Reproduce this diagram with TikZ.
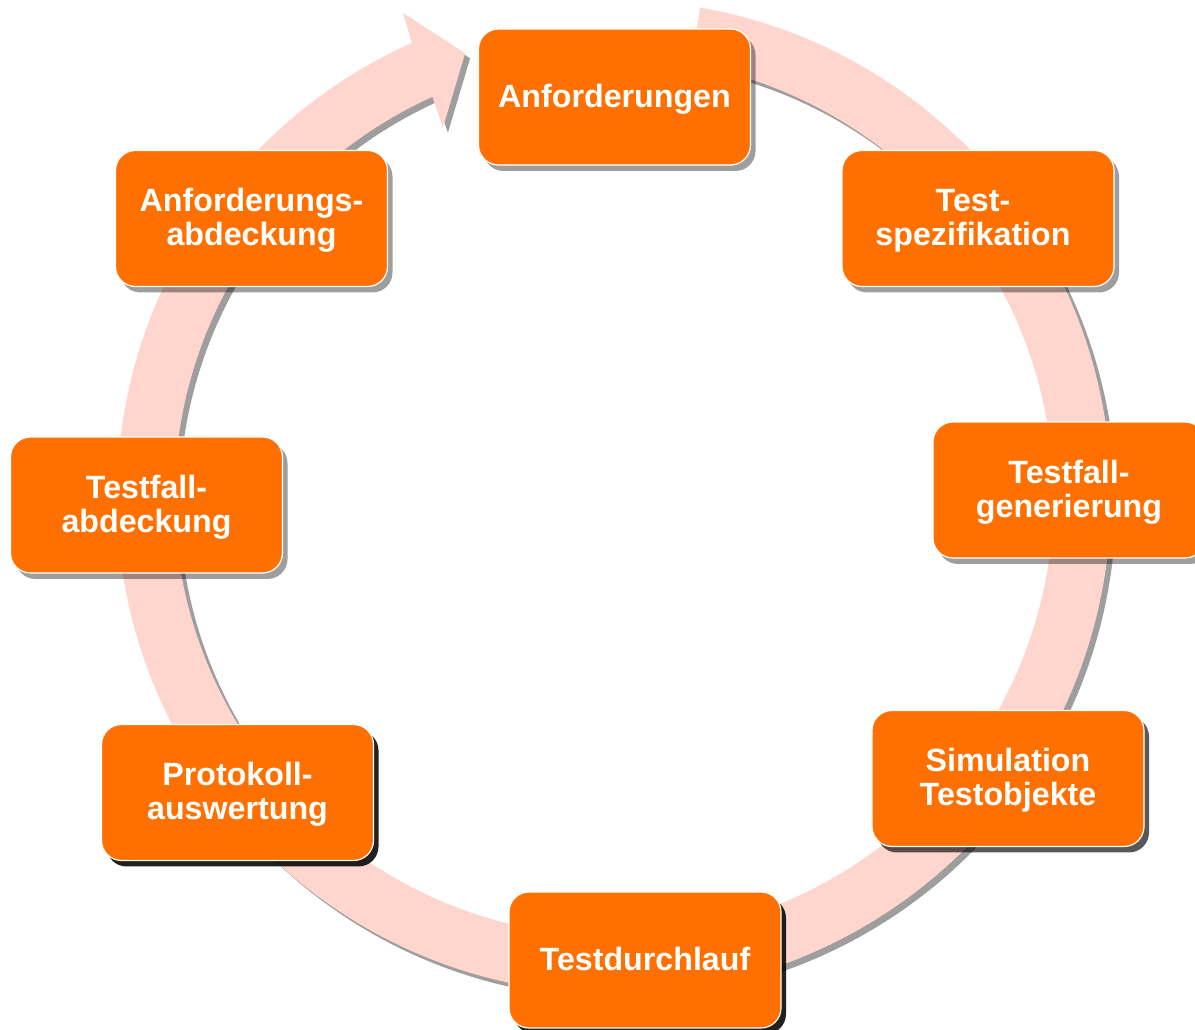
\documentclass[tikz,border=0pt]{standalone}
\usepackage{fontspec}
\setmainfont{Liberation Sans}
\usetikzlibrary{shadows}
\definecolor{stepfill}{RGB}{255,112,0}
\definecolor{ringpink}{RGB}{255,214,205}
\definecolor{ringshade}{RGB}{158,158,158}
% two-line label with fixed top/bottom struts so every box centres alike
\newcommand\phaselabel[2]{\rule{0pt}{28pt}#1\\#2\rule[-7pt]{0pt}{7pt}}
\newcommand\phaseline[1]{\rule{0pt}{28pt}#1\rule[-7pt]{0pt}{7pt}}
\begin{document}
\begin{tikzpicture}[x=1pt,y=1pt,
  phase/.style={draw=white, line width=1.2pt, fill=stepfill,
    rounded corners=20pt, minimum width=272pt, minimum height=136pt,
    inner sep=0pt, text=white, align=center,
    font=\fontsize{32.2}{34}\selectfont\bfseries},
  softshadow/.style={drop shadow={shadow xshift=5pt, shadow yshift=-6pt,
    fill=black, opacity=0.38}},
  midshadow/.style={drop shadow={shadow xshift=5pt, shadow yshift=-6pt,
    fill=black, opacity=0.65}},
  hardshadow/.style={drop shadow={shadow xshift=5pt, shadow yshift=-6pt,
    fill=black, opacity=0.87}}]
\clip (0,0) rectangle (1195,1029);
\fill[white] (0,0) rectangle (1195,1029);

% circular process arrow: shadow first, then the band itself
\begin{scope}[shift={(619,527)}]
  \fill[ringshade]
    (80:497) arc[start angle=80, end angle=-246, radius=497]
    -- (113.55:528) -- (108.55:468) -- (114.86:407) -- (114.4:439.5)
    arc[start angle=-245.6, end angle=80, radius=439.5] -- cycle;
\end{scope}
\begin{scope}[shift={(614,532)}]
  \fill[ringpink]
    (80:497) arc[start angle=80, end angle=-246, radius=497]
    -- (113.55:528) -- (108.55:468) -- (114.86:407) -- (114.4:439.5)
    arc[start angle=-245.6, end angle=80, radius=439.5] -- cycle;
\end{scope}

% process steps
\node[phase, softshadow] (req)    at (614.5,932)  {\phaseline{Anforderungen}};
\node[phase, softshadow] (spec)   at (978,810.5)  {\phaselabel{Test-\hspace*{10pt}}{spezifikation}\hspace*{10pt}};
\node[phase, softshadow] (gen)    at (1069,539)   {\phaselabel{Testfall-}{generierung}};
\node[phase, midshadow]  (sim)    at (1008,250.5) {\phaselabel{Simulation}{Testobjekte}};
\node[phase, hardshadow] (run)    at (645,69)     {\phaseline{Testdurchlauf}};
\node[phase, hardshadow] (log)    at (237.5,236.5){\phaselabel{Protokoll-}{auswertung}};
\node[phase, softshadow] (cov)    at (146.5,524)  {\phaselabel{Testfall-}{abdeckung}};
\node[phase, softshadow] (reqcov) at (251.5,810.5){\phaselabel{Anforderungs-}{abdeckung}};
\end{tikzpicture}
\end{document}
